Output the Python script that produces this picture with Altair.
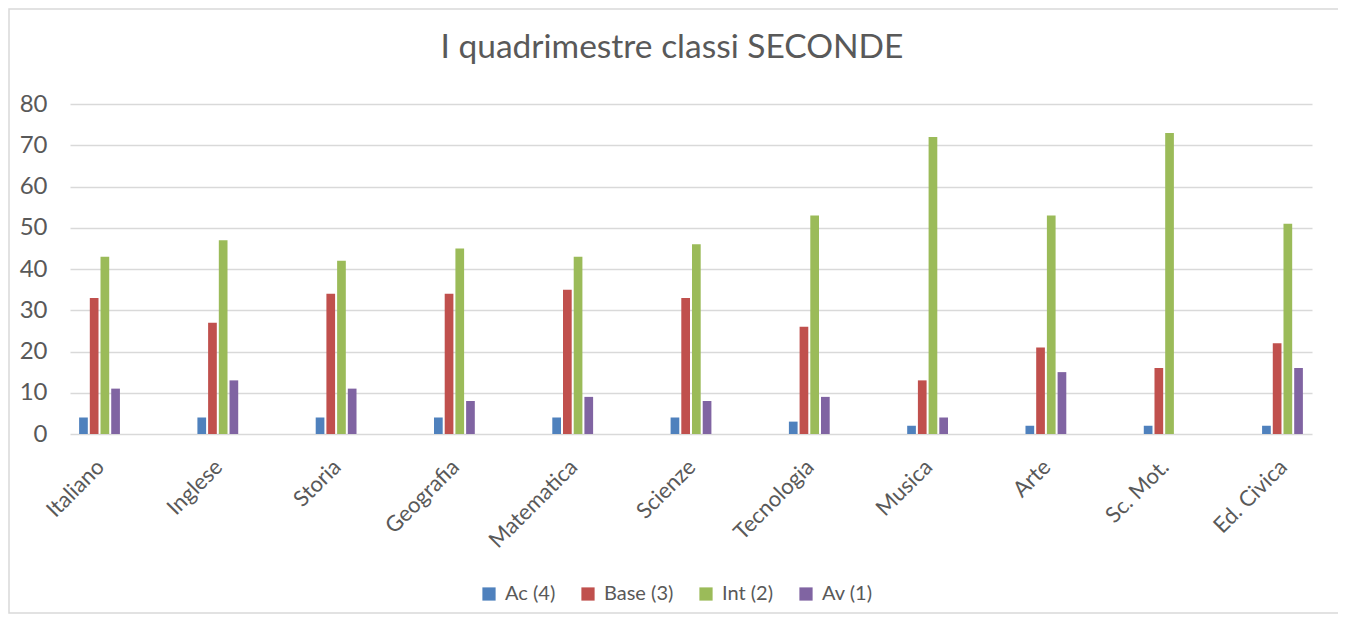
import altair as alt
import pandas as pd

materie = ["Italiano", "Inglese", "Storia", "Geografia", "Matematica", "Scienze",
           "Tecnologia", "Musica", "Arte", "Sc. Mot.", "Ed. Civica"]
serie = ["Ac (4)", "Base (3)", "Int (2)", "Av (1)"]
ac = [4, 4, 4, 4, 4, 4, 3, 2, 2, 2, 2]
base = [33, 27, 34, 34, 35, 33, 26, 13, 21, 16, 22]
intermedio = [43, 47, 42, 45, 43, 46, 53, 72, 53, 73, 51]
avanzato = [11, 13, 11, 8, 9, 8, 9, 4, 15, 0, 16]
colori = ["#4F81BD", "#C0504D", "#9BBB59", "#8064A2"]
y_ticks = [0, 10, 20, 30, 40, 50, 60, 70, 80]
titolo = "I quadrimestre classi SECONDE"

rows = []
for s, vals in zip(serie, [ac, base, intermedio, avanzato]):
    for m, v in zip(materie, vals):
        rows.append({"materia": m, "serie": s, "valore": v})
df = pd.DataFrame(rows)

FONT = "Lato"
TXT = "#595959"
GRID = "#D9D9D9"

bars = alt.Chart(df).mark_bar().encode(
    x=alt.X("materia:N", sort=materie,
            scale=alt.Scale(paddingInner=0.655, paddingOuter=0.077),
            axis=alt.Axis(title=None, labelAngle=-45, domain=False, ticks=False,
                          labelFontSize=22, labelColor=TXT, labelFont=FONT,
                          labelPadding=22, labelOffset=-6)),
    xOffset=alt.XOffset("serie:N", sort=serie,
                        scale=alt.Scale(paddingInner=0.187, paddingOuter=0)),
    y=alt.Y("valore:Q", scale=alt.Scale(domain=[0, 80], nice=False),
            axis=alt.Axis(title=None, values=y_ticks, grid=True, gridColor=GRID,
                          gridWidth=1.3, domain=False, ticks=False,
                          labelFontSize=24, labelColor=TXT, labelFont=FONT,
                          labelPadding=23)),
    color=alt.Color("serie:N", sort=serie,
                    scale=alt.Scale(domain=serie, range=colori),
                    legend=alt.Legend(title=None, orient="none", direction="horizontal",
                                      legendX=409, legendY=480,
                                      symbolType="square", symbolSize=175,
                                      symbolStrokeWidth=0,
                                      labelFontSize=20, labelColor=TXT, labelFont=FONT,
                                      labelOffset=6, columnPadding=22)),
)

frame = alt.Chart(alt.Data(values=[{}])).mark_rect(
    fill=None, stroke=GRID, strokeWidth=1.5
).encode(
    x=alt.value(-61), x2=alt.value(1271),
    y=alt.value(-95), y2=alt.value(509),
)

title = alt.Chart(alt.Data(values=[{}])).mark_text(
    font=FONT, fontSize=33.5, color=TXT, align="center", baseline="alphabetic"
).encode(
    x=alt.value(602), y=alt.value(-46.5), text=alt.value(titolo),
)

chart = alt.layer(frame, title, bars).properties(
    width=1242, height=330,
    autosize=alt.AutoSizeParams(type="none"),
    padding={"left": 62, "top": 96, "right": 26, "bottom": 180},
).configure_view(stroke=None)

chart.save("out.html", embed_options={"renderer": "svg", "actions": False})
